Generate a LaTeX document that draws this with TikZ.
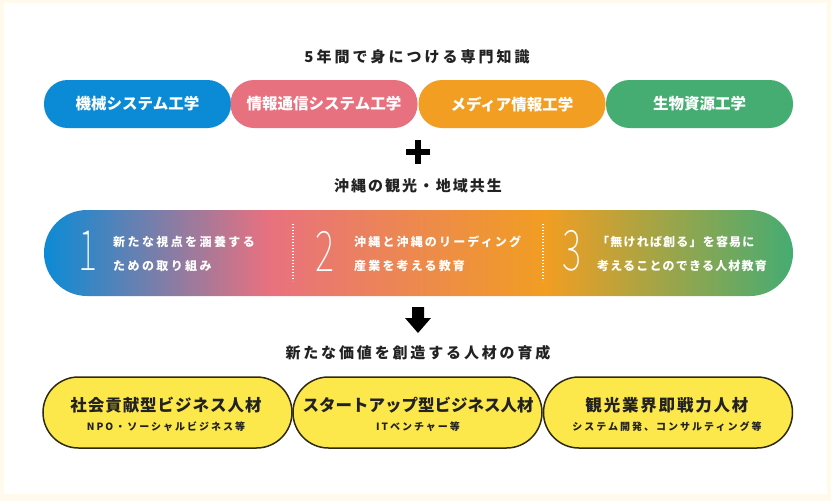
\documentclass[tikz,border=0pt]{standalone}
\usepackage{fontspec}
\usepackage{graphicx}
\newfontfamily\jp{Noto Sans CJK JP}
\IfFontExistsTF{Noto Sans CJK JP Thin}{\newfontfamily\numfont{Noto Sans CJK JP Thin}}{%
  \IfFontExistsTF{Noto Sans CJK JP Light}{\newfontfamily\numfont{Noto Sans CJK JP Light}}{\newfontfamily\numfont{DejaVu Sans}}}
\definecolor{cream}{HTML}{FFFAEB}
\definecolor{ink}{HTML}{222222}
\definecolor{cblue}{HTML}{0B8BD5}
\definecolor{cpink}{HTML}{E8717F}
\definecolor{corange}{HTML}{F19E22}
\definecolor{cgreen}{HTML}{45AC72}
\definecolor{cyellow}{HTML}{FDE84C}
\definecolor{cedge}{HTML}{2E2A12}
\pgfdeclarehorizontalshading{okband}{100bp}{color(0bp)=(cblue); color(25bp)=(cblue); color(40bp)=(cpink); color(58.5bp)=(corange); color(75bp)=(cgreen); color(100bp)=(cgreen)}
\tikzset{
  heading/.style={inner sep=0pt, text=ink, font=\jp\bfseries\fontsize{15}{18}\selectfont},
  toppill/.style={rounded corners=23.5pt, minimum width=187pt, minimum height=48pt, inner sep=0pt, text=white, font=\jp\bfseries\fontsize{15.5}{18}\selectfont},
  bandbox/.style={minimum width=749pt, minimum height=86pt, rounded corners=43pt, shading=okband, inner sep=0pt},
  numtxt/.style={inner sep=0pt, text=white, font=\numfont\fontsize{56}{60}\selectfont},
  bandtxt/.style={anchor=west, align=left, inner sep=0pt, text=white, font=\jp\bfseries\fontsize{12}{24}\selectfont},
  sep/.style={white, line width=1.3pt, dash pattern=on 1.3pt off 1.7pt},
  yellowpill/.style={draw=cedge, line width=1.5pt, fill=cyellow, rounded corners=35.5pt, minimum width=249pt, minimum height=71pt, inner sep=0pt},
  ytitle/.style={inner sep=0pt, text=ink, font=\jp\bfseries\fontsize{16.5}{19}\selectfont},
  ysub/.style={inner sep=0pt, text=ink, font=\jp\bfseries\fontsize{10}{12}\selectfont},
}
\begin{document}
\begin{tikzpicture}[x=1pt,y=-1pt]
\useasboundingbox (0,0) rectangle (831,501);
\fill[cream] (0,0) rectangle (831,501);
\fill[white] (4,3) rectangle (827,494);

\node[heading] (h1) at (417,57) {\addfontfeatures{LetterSpace=20}5年間で身につける専門知識};

\node[toppill, fill=cblue] (p1) at (137.5,104) {機械システム工学};
\node[toppill, fill=cpink] (p2) at (324,104) {情報通信システム工学};
\node[toppill, fill=corange] (p3) at (512,104) {メディア情報工学};
\node[toppill, fill=cgreen] (p4) at (699.5,104) {生物資源工学};

\fill[black] (406,149) rectangle (430,155);
\fill[black] (415,140) rectangle (421,164);

\node[heading] (h2) at (418,186) {\addfontfeatures{LetterSpace=13}沖縄の観光・地域共生};

\node[bandbox] (band) at (418.5,253) {};
\draw[sep] (293,224) -- (293,281);
\draw[sep] (543,224) -- (543,281);

\node[numtxt] (n1) at (88,251) {\scalebox{0.65}[1]{1}};
\node[numtxt] (n2) at (325,251) {\scalebox{0.65}[1]{2}};
\node[numtxt] (n3) at (572,251) {\scalebox{0.65}[1]{3}};

\node[bandtxt] (b1) at (113,254) {\addfontfeatures{LetterSpace=20}新たな視点を涵養する\\\addfontfeatures{LetterSpace=20}ための取り組み};
\node[bandtxt] (b2) at (354,254) {\addfontfeatures{LetterSpace=18}沖縄と沖縄のリーディング\\\addfontfeatures{LetterSpace=18}産業を考える教育};
\node[bandtxt] (b3) at (597,254) {\addfontfeatures{LetterSpace=10}「無ければ創る」を容易に\\\addfontfeatures{LetterSpace=10}考えることのできる人材教育};

\fill[black] (412,307) -- (424,307) -- (424,318) -- (431,318) -- (418,333) -- (405,318) -- (412,318) -- cycle;

\node[heading] (h3) at (418,353) {\addfontfeatures{LetterSpace=19}新たな価値を創造する人材の育成};

\node[yellowpill] (y1) at (167.5,412.5) {};
\node[yellowpill] (y2) at (417.5,412.5) {};
\node[yellowpill] (y3) at (668,412.5) {};

\node[ytitle] (t1) at (166,405) {\addfontfeatures{LetterSpace=6}社会貢献型ビジネス人材};
\node[ysub] (s1) at (166,427) {\addfontfeatures{LetterSpace=20}NPO・ソーシャルビジネス等};
\node[ytitle] (t2) at (418,405) {\addfontfeatures{LetterSpace=0}スタートアップ型ビジネス人材};
\node[ysub] (s2) at (418,427) {\addfontfeatures{LetterSpace=20}ITベンチャー等};
\node[ytitle] (t3) at (667,405) {\addfontfeatures{LetterSpace=11}観光業界即戦力人材};
\node[ysub] (s3) at (667,427) {\addfontfeatures{LetterSpace=20}システム開発、コンサルティング等};
\end{tikzpicture}
\end{document}
